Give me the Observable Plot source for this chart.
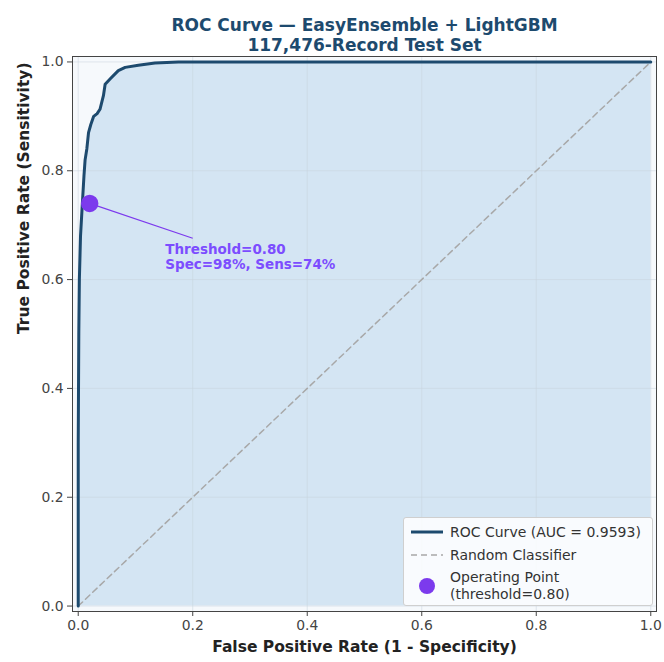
<!DOCTYPE html>
<html>
<head>
<meta charset="utf-8">
<script src="https://cdn.jsdelivr.net/npm/d3@7"></script>
<script src="https://cdn.jsdelivr.net/npm/@observablehq/plot@0.6"></script>
<style>
  body { margin: 0; background: #fff; font-family: "DejaVu Sans", sans-serif; }
  #wrap { position: relative; width: 664px; height: 662px; }
  #legend { position: absolute; left: 403px; top: 517px; width: 250px; height: 89px;
    border: 1px solid #cfcfcf; border-radius: 3px; background: rgba(255,255,255,0.85);
    box-sizing: border-box; font-size: 14px; color: #333; }
  .row { position: absolute; left: 0; height: 20px; display: flex; align-items: center; }
  .sw { width: 46px; display: flex; justify-content: center; }
</style>
</head>
<body>
<div id="wrap"></div>
<script>
// ROC curve points (FPR, TPR)
const fpr = [0, 0, 0.000, 0.001, 0.002, 0.004, 0.0075, 0.010, 0.012, 0.015, 0.018, 0.022, 0.027, 0.033, 0.038, 0.044, 0.047, 0.056, 0.070, 0.082, 0.105, 0.134, 0.175, 0.30, 0.60, 1.0];
const tpr = [0, 0.10, 0.30, 0.50, 0.60, 0.68, 0.745, 0.79, 0.82, 0.84, 0.87, 0.885, 0.90, 0.905, 0.913, 0.938, 0.959, 0.969, 0.984, 0.990, 0.994, 0.998, 1.0, 1.0, 1.0, 1.0];
const diagX = [0, 1];
const diagY = [0, 1];
const opFpr = [0.02];
const opTpr = [0.74];
const annotX = [0.152];
const annotY = [0.642];
const arrowEndX = [0.20];
const arrowEndY = [0.676];
const annotText = ["Threshold=0.80\nSpec=98%, Sens=74%"];
const ticks = [0, 0.2, 0.4, 0.6, 0.8, 1.0];
const titleLines = ["ROC Curve — EasyEnsemble + LightGBM", "117,476-Record Test Set"];
const legendLabels = ["ROC Curve (AUC = 0.9593)", "Random Classifier", "Operating Point\n(threshold=0.80)"];

const roc = fpr.map((x, i) => ({x, y: tpr[i]}));
const diag = diagX.map((x, i) => ({x, y: diagY[i]}));
const op = opFpr.map((x, i) => ({x, y: opTpr[i]}));
const arrow = op.map((d, i) => ({x1: d.x, y1: d.y, x2: arrowEndX[i], y2: arrowEndY[i]}));
const annot = annotX.map((x, i) => ({x, y: annotY[i], t: annotText[i]}));

const navy = "#1d4a6e";
const purple = "#7c3aed";

const chart = Plot.plot({
  width: 664,
  height: 662,
  marginLeft: 72,
  marginRight: 8,
  marginTop: 56,
  marginBottom: 51,
  style: {fontFamily: "DejaVu Sans, sans-serif", fontSize: "13.9px", color: "#333", background: "#fff"},
  x: {domain: [-0.01, 1.01], label: null},
  y: {domain: [-0.01, 1.01], label: null},
  marks: [
    Plot.frame({fill: "#f6f9fc"}),
    Plot.areaY(roc, {x: "x", y: "y", fill: "#d4e5f3"}),
    Plot.gridX(ticks, {stroke: "#c8d4de", strokeOpacity: 0.5}),
    Plot.gridY(ticks, {stroke: "#c8d4de", strokeOpacity: 0.5}),
    Plot.line(diag, {x: "x", y: "y", stroke: "#a8a8a8", strokeWidth: 1.5, strokeDasharray: "6,4"}),
    Plot.line(roc, {x: "x", y: "y", stroke: navy, strokeWidth: 3, strokeLinejoin: "round"}),
    Plot.link(arrow, {x1: "x1", y1: "y1", x2: "x2", y2: "y2", stroke: purple, strokeWidth: 1.2}),
    Plot.dot(op, {x: "x", y: "y", r: 8, fill: purple, stroke: purple}),
    Plot.text(annot, {x: "x", y: "y", text: "t", textAnchor: "start", lineAnchor: "middle", fill: "#7c4dff", fontWeight: "bold", fontSize: 13.5, lineHeight: 1.15}),
    Plot.frame({stroke: "#444", strokeWidth: 1}),
    Plot.axisX(ticks, {tickFormat: d3.format(".1f"), tickSize: 5, tickPadding: 4, stroke: "#444", fill: "#444", fontSize: 13.9}),
    Plot.axisY(ticks, {tickFormat: d3.format(".1f"), tickSize: 5, tickPadding: 4, stroke: "#444", fill: "#444", fontSize: 13.9}),
    Plot.text([titleLines[0]], {frameAnchor: "top", dy: -38, text: d => d, fill: "#1d4a6e", fontWeight: "bold", fontSize: 17}),
    Plot.text([titleLines[1]], {frameAnchor: "top", dy: -18, text: d => d, fill: "#1d4a6e", fontWeight: "bold", fontSize: 17}),
    Plot.text(["False Positive Rate (1 - Specificity)"], {frameAnchor: "bottom", dy: 40, text: d => d, fill: "#222", fontWeight: "bold", fontSize: 15.5}),
    Plot.text(["True Positive Rate (Sensitivity)"], {frameAnchor: "left", dx: -48, rotate: -90, text: d => d, fill: "#222", fontWeight: "bold", fontSize: 15.5})
  ]
});

const wrap = document.getElementById("wrap");
wrap.appendChild(chart);

const legend = document.createElement("div");
legend.id = "legend";
const rows = [
  {top: 4, sw: `<svg width="34" height="6"><line x1="1" y1="3" x2="33" y2="3" stroke="${navy}" stroke-width="3"/></svg>`, label: legendLabels[0]},
  {top: 27, sw: `<svg width="34" height="6"><line x1="1" y1="3" x2="33" y2="3" stroke="#a8a8a8" stroke-width="1.5" stroke-dasharray="6,4"/></svg>`, label: legendLabels[1]},
  {top: 58, sw: `<svg width="18" height="18"><circle cx="9" cy="9" r="8" fill="${purple}"/></svg>`, label: legendLabels[2]}
];
rows.forEach(r => {
  const div = document.createElement("div");
  div.className = "row";
  div.style.top = r.top + "px";
  const sw = document.createElement("div");
  sw.className = "sw";
  sw.innerHTML = r.sw;
  const lab = document.createElement("div");
  lab.style.whiteSpace = "pre";
  lab.style.lineHeight = "17px";
  lab.textContent = r.label;
  div.appendChild(sw);
  div.appendChild(lab);
  legend.appendChild(div);
});
wrap.appendChild(legend);
</script>
</body>
</html>
